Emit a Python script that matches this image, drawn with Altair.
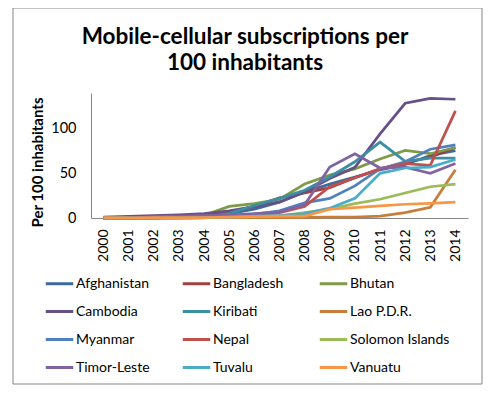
import altair as alt
import pandas as pd

years = [str(y) for y in range(2000, 2015)]
countries = ["Afghanistan", "Bangladesh", "Bhutan", "Cambodia", "Kiribati", "Lao P.D.R.",
             "Myanmar", "Nepal", "Solomon Islands", "Timor-Leste", "Tuvalu", "Vanuatu"]
colors = ["#3E6A9C", "#A0413E", "#7F9A48", "#674F87", "#3B8FA5", "#C87D3A",
          "#4F81BD", "#C0504D", "#9BBB59", "#8064A2", "#4BACC6", "#F79646"]
title_lines = ["Mobile-cellular subscriptions per", "100 inhabitants"]

afghanistan = [0.0, 0.0, 0.1, 0.9, 2.5, 4.9, 9.9, 17.7, 29.2, 37.9, 45.8, 54.0, 60.0, 70.0, 75.5]
bangladesh = [0.2, 0.4, 0.8, 1.0, 2.0, 6.3, 13.1, 22.6, 28.0, 34.0, 45.0, 55.0, 62.0, 68.0, 79.0]
bhutan = [0.0, 0.0, 0.0, 1.1, 3.0, 13.0, 16.0, 21.0, 38.0, 48.0, 55.0, 66.0, 75.6, 72.0, 79.0]
cambodia = [1.0, 1.7, 2.8, 3.6, 5.0, 7.9, 12.7, 18.0, 29.1, 44.3, 56.7, 94.2, 128.5, 133.9, 133.0]
kiribati = [0.4, 0.5, 0.6, 0.7, 1.0, 5.0, 14.0, 22.0, 31.0, 46.0, 63.0, 85.0, 63.5, 67.0, 67.0]
lao = [0.2, 0.3, 0.3, 0.4, 0.5, 0.5, 0.4, 0.4, 0.7, 0.9, 1.1, 2.0, 6.0, 12.0, 54.0]
myanmar = [0.0, 0.1, 0.1, 0.1, 0.2, 2.0, 4.0, 8.0, 17.0, 22.0, 36.0, 55.0, 63.0, 77.0, 82.0]
nepal = [0.0, 0.1, 0.1, 0.2, 0.5, 0.9, 2.5, 6.0, 13.0, 35.0, 45.0, 55.0, 61.0, 59.0, 120.0]
solomon = [0.2, 0.2, 0.2, 0.3, 0.3, 1.3, 1.5, 2.0, 6.0, 10.0, 16.0, 21.0, 28.0, 35.0, 38.0]
timor = [0.0, 0.2, 1.5, 2.2, 2.7, 3.3, 4.9, 7.0, 14.7, 57.0, 72.0, 56.0, 57.0, 50.0, 61.0]
tuvalu = [0.0, 0.0, 0.0, 0.0, 0.5, 1.0, 2.0, 3.0, 5.0, 11.0, 22.0, 50.0, 56.0, 57.0, 65.5]
vanuatu = [0.2, 0.2, 0.3, 0.3, 0.5, 1.0, 1.5, 2.0, 2.0, 10.0, 11.7, 13.5, 15.4, 16.5, 17.7]

series = [afghanistan, bangladesh, bhutan, cambodia, kiribati, lao,
          myanmar, nepal, solomon, timor, tuvalu, vanuatu]

rows = []
for c, vals in zip(countries, series):
    for y, v in zip(years, vals):
        rows.append({"Country": c, "Year": y, "Value": v})
df = pd.DataFrame(rows)

FONT = "Lato"

lines = alt.Chart(df).mark_line(strokeWidth=2.75).encode(
    x=alt.X("Year:O", sort=years, scale=alt.Scale(type="point", padding=0.5),
            axis=alt.Axis(title=None, labelAngle=-90, ticks=False, labelPadding=11,
                          domainColor="#868686", labelFont=FONT, labelFontSize=14,
                          labelColor="#000000", grid=False)),
    y=alt.Y("Value:Q", scale=alt.Scale(domain=[0, 140], nice=False),
            axis=alt.Axis(title="Per 100 inhabitants", values=[0, 50, 100], ticks=False,
                          labelPadding=15, grid=False, domainColor="#868686",
                          labelFont=FONT, labelFontSize=14.5, labelColor="#000000",
                          titleFont=FONT, titleFontSize=15, titleFontWeight="bold",
                          titleColor="#000000", titleX=-46, titleY=69,
                          titleBaseline="bottom")),
    color=alt.Color("Country:N", sort=countries,
                    scale=alt.Scale(domain=countries, range=colors),
                    legend=alt.Legend(title=None, orient="none", legendX=-47, legendY=175,
                                      columns=3, direction="horizontal",
                                      symbolType="stroke", symbolSize=756,
                                      symbolStrokeWidth=3, labelOffset=1,
                                      labelFont=FONT, labelFontSize=14, labelColor="#000000",
                                      gridAlign="all", columnPadding=0, rowPadding=5,
                                      padding=0)),
    order=alt.Order("Year:O"),
)

one = pd.DataFrame({"k": [0]})

border = alt.Chart(one).mark_rect(
    fill=None, stroke="#868686", strokeWidth=1
).encode(
    x=alt.value(-78), x2=alt.value(391), y=alt.value(-85), y2=alt.value(291)
)

title = alt.Chart(one).mark_text(
    font=FONT, fontSize=22.5, fontWeight="bold", color="#000000",
    align="center", baseline="alphabetic", lineHeight=26
).encode(
    x=alt.value(154), y=alt.value(-49), text=alt.value(title_lines)
)

chart = alt.layer(border, title, lines).properties(
    width=377, height=125,
    autosize=alt.AutoSizeParams(type="none"),
    padding={"left": 83, "top": 85, "right": 17, "bottom": 170},
).configure_view(stroke=None)

chart.save("out.html", embed_options={"renderer": "svg", "actions": False})
